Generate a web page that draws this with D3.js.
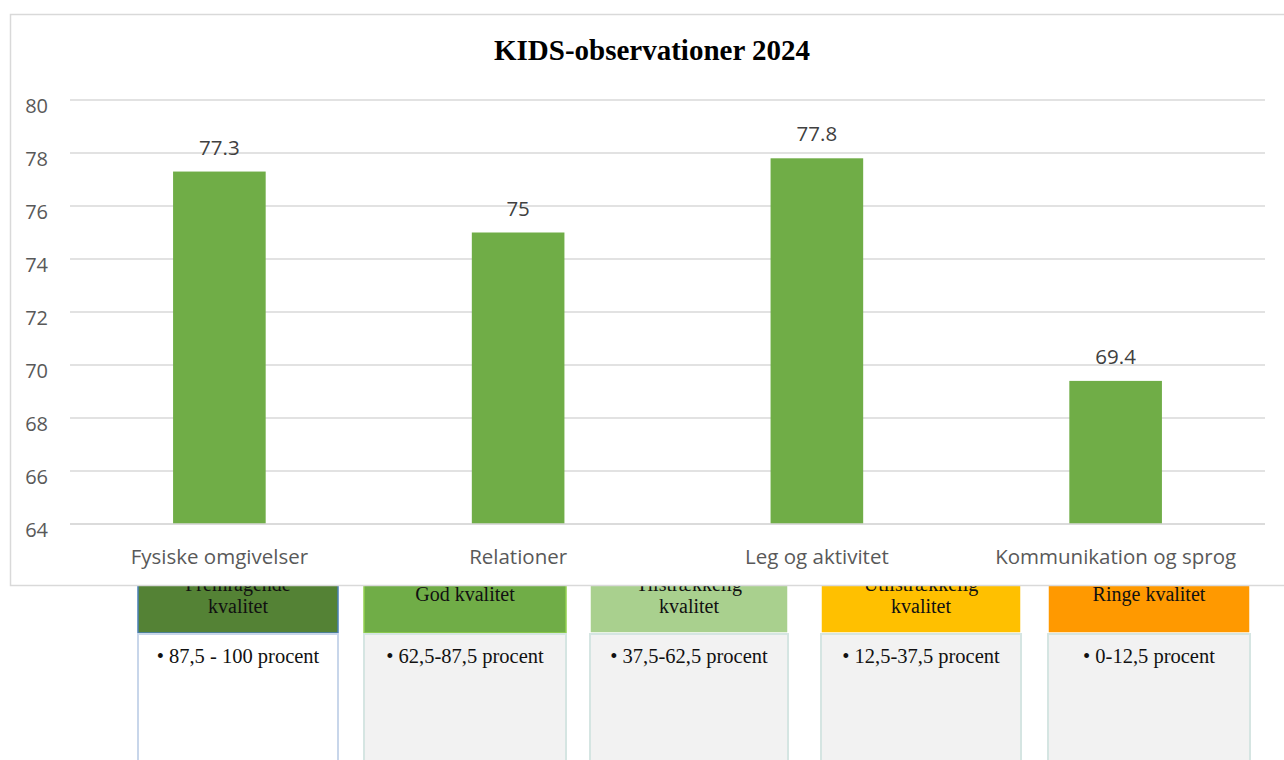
<!DOCTYPE html>
<html>
<head>
<meta charset="utf-8">
<script src="https://cdn.jsdelivr.net/npm/d3@7"></script>
<style>
  body { margin: 0; background: #fff; }
  svg { display: block; }
</style>
</head>
<body>
<div id="chart"></div>
<script>
// chart data
var categories = ["Fysiske omgivelser", "Relationer", "Leg og aktivitet", "Kommunikation og sprog"];
var values = [77.3, 75, 77.8, 69.4];
var yTicks = [64, 66, 68, 70, 72, 74, 76, 78, 80];

// legend data (quality scale below the chart)
var levelNames = [["Fremragende", "kvalitet"], ["God kvalitet"], ["Tilstrækkelig", "kvalitet"], ["Utilstrækkelig", "kvalitet"], ["Ringe kvalitet"]];
var levelRanges = ["• 87,5 - 100 procent", "• 62,5-87,5 procent", "• 37,5-62,5 procent", "• 12,5-37,5 procent", "• 0-12,5 procent"];
var levelColors = ["#548235", "#70ad47", "#a9d08e", "#ffc000", "#ff9900"];

var W = 1284, H = 760;

var svg = d3.select("#chart")
  .append("svg")
    .attr("width", W)
    .attr("height", H);

// legend boxes go first, the chart frame covers their top
var boxX = [138, 364, 590, 821, 1048];
var boxW = [200, 202, 198, 200, 202];
var legend = svg.append("g");

levelNames.forEach(function(name, i) {
  var g = legend.append("g").attr("transform", "translate(" + boxX[i] + ",0)");
  g.append("rect")
    .attr("x", 0).attr("y", 560)
    .attr("width", boxW[i]).attr("height", 73)
    .attr("fill", levelColors[i])
    .attr("stroke", i == 0 ? "#4a7fb5" : (i == 1 ? "#92d050" : "#ffffff"))
    .attr("stroke-width", 1.5);
  g.append("rect")
    .attr("x", 0).attr("y", 634)
    .attr("width", boxW[i]).attr("height", 140)
    .attr("fill", i == 0 ? "#ffffff" : "#f2f2f2")
    .attr("stroke", i == 0 ? "#c8d6ea" : "#d5e5e2")
    .attr("stroke-width", 2);
  var y0 = name.length == 2 ? 591 : 601;
  name.forEach(function(t, j) {
    g.append("text")
      .attr("x", boxW[i] / 2)
      .attr("y", y0 + j * 22)
      .attr("text-anchor", "middle")
      .style("font-family", "'Liberation Serif', serif")
      .style("font-size", "20px")
      .style("fill", "#111")
      .text(t);
  });
  g.append("text")
    .attr("x", boxW[i] / 2)
    .attr("y", 663)
    .attr("text-anchor", "middle")
    .style("font-family", "'Liberation Serif', serif")
    .style("font-size", "20.5px")
    .style("fill", "#111")
    .text(levelRanges[i]);
});

// chart frame
svg.append("rect")
  .attr("x", 10.5).attr("y", 14.5)
  .attr("width", 1290).attr("height", 571)
  .attr("fill", "#fff")
  .attr("stroke", "#d9d9d9")
  .attr("stroke-width", 1.5);

svg.append("text")
  .attr("x", 652)
  .attr("y", 60)
  .attr("text-anchor", "middle")
  .style("font-family", "'Liberation Serif', serif")
  .style("font-weight", "bold")
  .style("font-size", "29px")
  .style("fill", "#000")
  .text("KIDS-observationer 2024");

var margin = {left: 70, right: 1265, top: 100, bottom: 524};

var x = d3.scaleBand()
  .domain(categories)
  .range([margin.left, margin.right])
  .paddingInner(0.69)
  .paddingOuter(0.345);

var y = d3.scaleLinear()
  .domain([64, 80])
  .range([margin.bottom, margin.top]);

// gridlines
svg.selectAll("gridLine")
  .data(yTicks)
  .enter()
  .append("line")
    .attr("x1", margin.left)
    .attr("x2", margin.right)
    .attr("y1", function(d) { return y(d); })
    .attr("y2", function(d) { return y(d); })
    .attr("stroke", "#d9d9d9")
    .attr("stroke-width", 1.5);

// y axis
var yAxis = svg.append("g")
  .attr("transform", "translate(48,0)")
  .call(d3.axisLeft(y).tickValues(yTicks).tickSize(0).tickPadding(0));
yAxis.select(".domain").remove();
yAxis.selectAll("text")
  .attr("dy", "0.6em")
  .style("font-family", "'Open Sans', sans-serif")
  .style("font-size", "20px")
  .style("fill", "#595959");

// bars
svg.selectAll("mybar")
  .data(values)
  .enter()
  .append("rect")
    .attr("x", function(d, i) { return x(categories[i]); })
    .attr("y", function(d) { return y(d); })
    .attr("width", x.bandwidth())
    .attr("height", function(d) { return y(64) - y(d); })
    .attr("fill", "#70ad47");

// data labels
svg.selectAll("mylabel")
  .data(values)
  .enter()
  .append("text")
    .attr("x", function(d, i) { return x(categories[i]) + x.bandwidth() / 2; })
    .attr("y", function(d) { return y(d) - 17; })
    .attr("text-anchor", "middle")
    .style("font-family", "'Open Sans', sans-serif")
    .style("font-size", "20.5px")
    .style("fill", "#404040")
    .text(function(d) { return d; });

// baseline axis
svg.append("line")
  .attr("x1", margin.left).attr("x2", margin.right)
  .attr("y1", y(64)).attr("y2", y(64))
  .attr("stroke", "#d9d9d9")
  .attr("stroke-width", 1.5);

var xAxis = svg.append("g")
  .attr("transform", "translate(0," + y(64) + ")")
  .call(d3.axisBottom(x).tickSize(0).tickPadding(0));
xAxis.select(".domain").remove();
xAxis.selectAll("text")
  .attr("dy", "1.95em")
  .style("font-family", "'Open Sans', sans-serif")
  .style("font-size", "20.5px")
  .style("fill", "#595959");
</script>
</body>
</html>
